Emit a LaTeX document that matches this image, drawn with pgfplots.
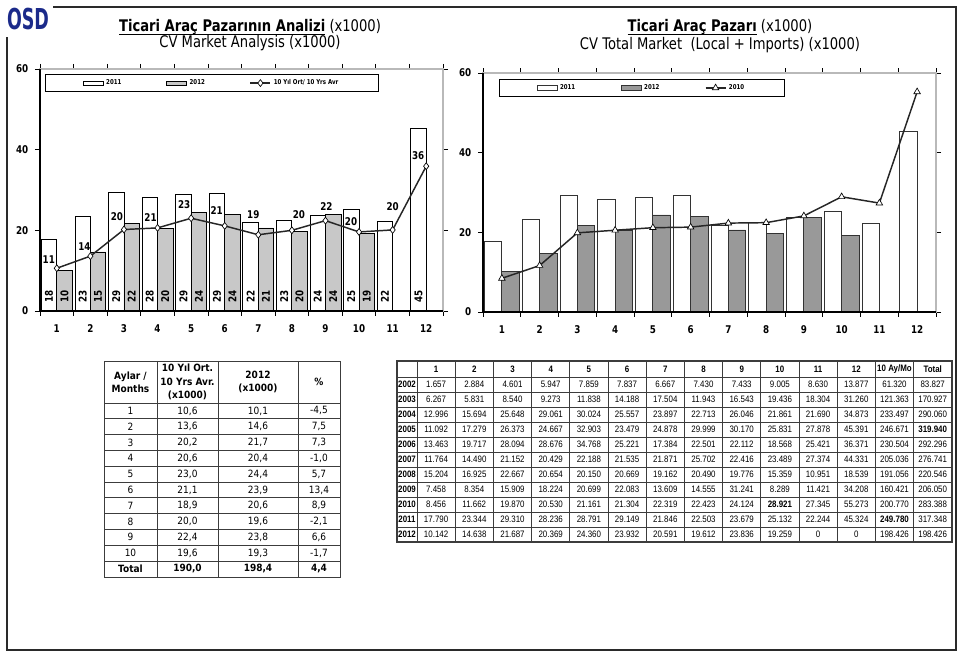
\documentclass[border=0pt]{standalone}
\usepackage{fontspec}
\setmainfont{DejaVu Sans}
\newfontfamily\nar{DejaVu Sans}[FakeStretch=0.82]
\newfontfamily\midf{DejaVu Sans}[FakeStretch=0.9]
\newfontfamily\tnar{Liberation Sans}[FakeStretch=0.85]
\usepackage{graphicx}
\usepackage{pgfplots}
\usepackage{pgfplotstable}
\pgfplotsset{compat=1.18}

\definecolor{osdblue}{HTML}{1B2A8A}
\definecolor{barlight}{HTML}{C8C8C8}
\definecolor{bardark}{HTML}{999999}
\definecolor{framec}{HTML}{2A2A2A}
\definecolor{gridc}{HTML}{3C3C3C}

% monthly sales x1000
\pgfplotstableread{
m v
1 17.790
2 23.344
3 29.310
4 28.236
5 28.791
6 29.149
7 21.846
8 22.503
9 23.679
10 25.132
11 22.244
12 45.324
}\yrA
\pgfplotstableread{
m v
1 10.142
2 14.638
3 21.687
4 20.369
5 24.360
6 23.932
7 20.591
8 19.612
9 23.836
10 19.259
}\yrB
\pgfplotstableread{
m v
1 8.456
2 11.662
3 19.870
4 20.530
5 21.161
6 21.304
7 22.319
8 22.423
9 24.124
10 28.921
11 27.345
12 55.273
}\yrC
% 10 year average, dx dy = label offset in pt
\pgfplotstableread{
m v dx dy
1 10.6 -6 6.75
2 13.6 -4.5 7.5
3 20.2 -5.25 9.75
4 20.6 -5.25 7.5
5 23.0 -5.25 10.5
6 21.1 -6 11.25
7 18.9 -3.75 15
8 20.0 5.25 12
9 22.4 0.75 10.5
10 19.6 -6 7.5
11 20.1 0 17.25
12 35.9 -6 8.25
}\avg

\pgfplotsset{
  cv/.style={
    scale only axis, clip=false,
    xmin=0.5, xmax=12.5, ymin=0, ymax=60,
    xtick={1,...,12}, ytick={0,20,40,60},
    minor xtick={0.5,1.5,...,12.5},
    major x tick style={draw=none},
    minor x tick style={black,line width=0.6pt},
    ytick style={black,line width=0.6pt},
    tick align=outside,
    major tick length=3.75pt, minor tick length=3.75pt,
    axis line style={draw=gray!55,line width=0.9pt},
    ticklabel style={font=\nar\bfseries\fontsize{8}{9}\selectfont},
    xticklabel style={yshift=-3pt},
    yticklabel style={xshift=-1.5pt},
    /pgf/number format/assume math mode=true,
    legend columns=-1,
    legend style={draw=black,line width=0.6pt,fill=white,anchor=north west,
      font=\nar\bfseries\fontsize{5}{6}\selectfont,
      inner xsep=28pt, inner ysep=1.8pt},
  },
  barleg/.style={legend image code/.code={\draw[##1,line width=0.6pt] (0pt,-1.6pt) rectangle (15pt,1.6pt);}},
  lineleg/.style={legend image code/.code={\draw[mark repeat=2,mark phase=2,##1] plot coordinates {(0pt,0pt) (7.5pt,0pt) (15pt,0pt)};}},
  barlab/.style={
    nodes near coords={\rotatebox{90}{\pgfmathprintnumber[fixed,precision=0]{\pgfplotspointmeta}}},
    visualization depends on={y \as \rawy},
    nodes near coords style={shift={(axis direction cs:#1,-\rawy)}, yshift=3pt,
      anchor=south, black, font=\nar\bfseries\fontsize{8}{9}\selectfont}},
}

\newcommand\trow[3]{%
  \node[font=\tnar\bfseries\fontsize{7}{8}\selectfont] at (407,{377+15*(#1-0.5)}) {#2};
  \foreach \v [count=\c] in {#3} {\node[font=\tnar\fontsize{7}{8}\selectfont] at ({417+38.2*(\c-0.5)},{377+15*(#1-0.5)}) {\v};}%
}

\begin{document}
\begin{tikzpicture}
\path[use as bounding box] (0,0) rectangle (720pt,492pt);

\begin{scope}[x=0.75pt,y=-0.75pt,shift={(0,-656)}]
  % frame
  \draw[framec,line width=2.2pt] (53,7) -- (956,7) -- (956,650) -- (7,650) -- (7,37);
  % logo
  \node[osdblue,font=\nar\bfseries\fontsize{16}{16}\selectfont] at (28,19) {\scalebox{1}[1.35]{OSD}};
  % titles
  \node[anchor=base,font=\nar\fontsize{12}{14}\selectfont] at (250,32) {\underline{\smash{\textbf{Ticari Araç Pazarının Analizi}}} (x1000)};
  \node[anchor=base,font=\nar\fontsize{12}{14}\selectfont] at (250,48) {CV Market Analysis (x1000)};
  \node[anchor=base,font=\nar\fontsize{12}{14}\selectfont] at (720,32) {\underline{\smash{\textbf{Ticari Araç Pazarı}}} (x1000)};
  \node[anchor=base,font=\nar\fontsize{12}{14}\selectfont] at (720,50) {CV Total Market\ \ (Local + Imports) (x1000)};

  % table 1
  \draw[gridc,line width=0.6pt] (104,361) rectangle (340,577);
  \foreach \x in {157,218,298} \draw[gridc,line width=0.6pt] (\x,361) -- (\x,577);
  \foreach \k in {0,...,10} \draw[gridc,line width=0.6pt] (104,{403+15.8*\k}) -- (340,{403+15.8*\k});
  \begin{scope}[every node/.style={align=center,font=\midf\bfseries\fontsize{7.5}{10}\selectfont}]
    \node at (130.5,382) {Aylar /\\Months};
    \node at (187.5,382) {10 Yıl Ort.\\10 Yrs Avr.\\(x1000)};
    \node at (258,382) {2012\\(x1000)};
    \node at (319,382) {\%};
  \end{scope}
  \foreach \a/\b/\c/\d [count=\i] in {1/{10,6}/{10,1}/{-4,5}, 2/{13,6}/{14,6}/{7,5},
      3/{20,2}/{21,7}/{7,3}, 4/{20,6}/{20,4}/{-1,0}, 5/{23,0}/{24,4}/{5,7},
      6/{21,1}/{23,9}/{13,4}, 7/{18,9}/{20,6}/{8,9}, 8/{20,0}/{19,6}/{-2,1},
      9/{22,4}/{23,8}/{6,6}, 10/{19,6}/{19,3}/{-1,7}}{
    \begin{scope}[every node/.style={font=\midf\fontsize{7.5}{9}\selectfont}]
      \node at (130.5,{403+15.8*(\i-0.5)}) {\a};
      \node at (187.5,{403+15.8*(\i-0.5)}) {\b};
      \node at (258,{403+15.8*(\i-0.5)}) {\c};
      \node at (319,{403+15.8*(\i-0.5)}) {\d};
    \end{scope}
  }
  \begin{scope}[every node/.style={font=\midf\bfseries\fontsize{7.5}{9}\selectfont}]
    \node at (130.5,569) {Total};
    \node at (187.5,569) {190,0};
    \node at (258,569) {198,4};
    \node at (319,569) {4,4};
  \end{scope}

  % table 2
  \draw[gridc,line width=0.9pt] (397,361) rectangle (952,542);
  \foreach \k in {0,...,13} \draw[gridc,line width=0.6pt] ({417+38.2*\k},361) -- ({417+38.2*\k},542);
  \foreach \k in {0,...,10} \draw[gridc,line width=0.6pt] (397,{377+15*\k}) -- (952,{377+15*\k});
  \foreach \h [count=\c] in {1,2,3,4,5,6,7,8,9,10,11,12,10 Ay/Mo,Total}
    \node[font=\tnar\bfseries\fontsize{7}{8}\selectfont] at ({417+38.2*(\c-0.5)},369) {\h};
  \trow{1}{2002}{1.657,2.884,4.601,5.947,7.859,7.837,6.667,7.430,7.433,9.005,8.630,13.877,61.320,83.827}
  \trow{2}{2003}{6.267,5.831,8.540,9.273,11.838,14.188,17.504,11.943,16.543,19.436,18.304,31.260,121.363,170.927}
  \trow{3}{2004}{12.996,15.694,25.648,29.061,30.024,25.557,23.897,22.713,26.046,21.861,21.690,34.873,233.497,290.060}
  \trow{4}{2005}{11.092,17.279,26.373,24.667,32.903,23.479,24.878,29.999,30.170,25.831,27.878,45.391,246.671,\textbf{319.940}}
  \trow{5}{2006}{13.463,19.717,28.094,28.676,34.768,25.221,17.384,22.501,22.112,18.568,25.421,36.371,230.504,292.296}
  \trow{6}{2007}{11.764,14.490,21.152,20.429,22.188,21.535,21.871,25.702,22.416,23.489,27.374,44.331,205.036,276.741}
  \trow{7}{2008}{15.204,16.925,22.667,20.654,20.150,20.669,19.162,20.490,19.776,15.359,10.951,18.539,191.056,220.546}
  \trow{8}{2009}{7.458,8.354,15.909,18.224,20.699,22.083,13.609,14.555,31.241,8.289,11.421,34.208,160.421,206.050}
  \trow{9}{2010}{8.456,11.662,19.870,20.530,21.161,21.304,22.319,22.423,24.124,\textbf{28.921},27.345,55.273,200.770,283.388}
  \trow{10}{2011}{17.790,23.344,29.310,28.236,28.791,29.149,21.846,22.503,23.679,25.132,22.244,45.324,\textbf{249.780},317.348}
  \trow{11}{2012}{10.142,14.638,21.687,20.369,24.360,23.932,20.591,19.612,23.836,19.259,0,0,198.426,198.426}
\end{scope}

% left chart
\begin{axis}[cv, at={(30pt,258.75pt)}, width=302.25pt, height=181.5pt,
  legend style={at={(0.0124,0.979)}}]
\addplot[ybar, bar width=0.46, bar shift=-0.23, fill=white, draw=black, line width=0.6pt, barleg, barlab=-0.23]
  table[x=m,y=v]{\yrA};
\addplot[ybar, bar width=0.46, bar shift=0.23, fill=barlight, draw=black, line width=0.6pt, barleg, barlab=0.23]
  table[x=m,y=v]{\yrB};
\addplot[black!85, line width=1.1pt, mark=diamond*, mark size=2.6pt,
  mark options={fill=white,draw=black,line width=0.5pt}, lineleg,
  nodes near coords={\pgfmathprintnumber[fixed,precision=0]{\pgfplotspointmeta}},
  visualization depends on={\thisrow{dx} \as \labdx},
  visualization depends on={\thisrow{dy} \as \labdy},
  nodes near coords style={xshift=\labdx pt, yshift=\labdy pt, anchor=center, black,
    font=\nar\bfseries\fontsize{8}{9}\selectfont}]
  table[x=m,y=v]{\avg};
\legend{\makebox[43pt][l]{2011},\makebox[43pt][l]{2012},10 Yıl Ort/ 10 Yrs Avr}
\draw[black,line width=0.9pt] (rel axis cs:0,1) -- (rel axis cs:0,0) -- (rel axis cs:1,0);
\end{axis}

% right chart
\begin{axis}[cv, at={(362.25pt,258pt)}, width=339.75pt, height=179.25pt,
  legend style={at={(0.035,0.975)}}]
\addplot[ybar, bar width=0.46, bar shift=-0.23, fill=white, draw=black!80, line width=0.6pt, barleg]
  table[x=m,y=v]{\yrA};
\addplot[ybar, bar width=0.46, bar shift=0.23, fill=bardark, draw=black!80, line width=0.6pt, barleg]
  table[x=m,y=v]{\yrB};
\addplot[black!85, line width=1.1pt, mark=triangle*, mark size=2.8pt,
  mark options={fill=white,draw=black,line width=0.5pt}, lineleg]
  table[x=m,y=v]{\yrC};
\legend{\makebox[43.5pt][l]{2011},\makebox[43.5pt][l]{2012},2010}
\draw[black,line width=0.9pt] (rel axis cs:0,1) -- (rel axis cs:0,0) -- (rel axis cs:1,0);
\end{axis}
\end{tikzpicture}
\end{document}
